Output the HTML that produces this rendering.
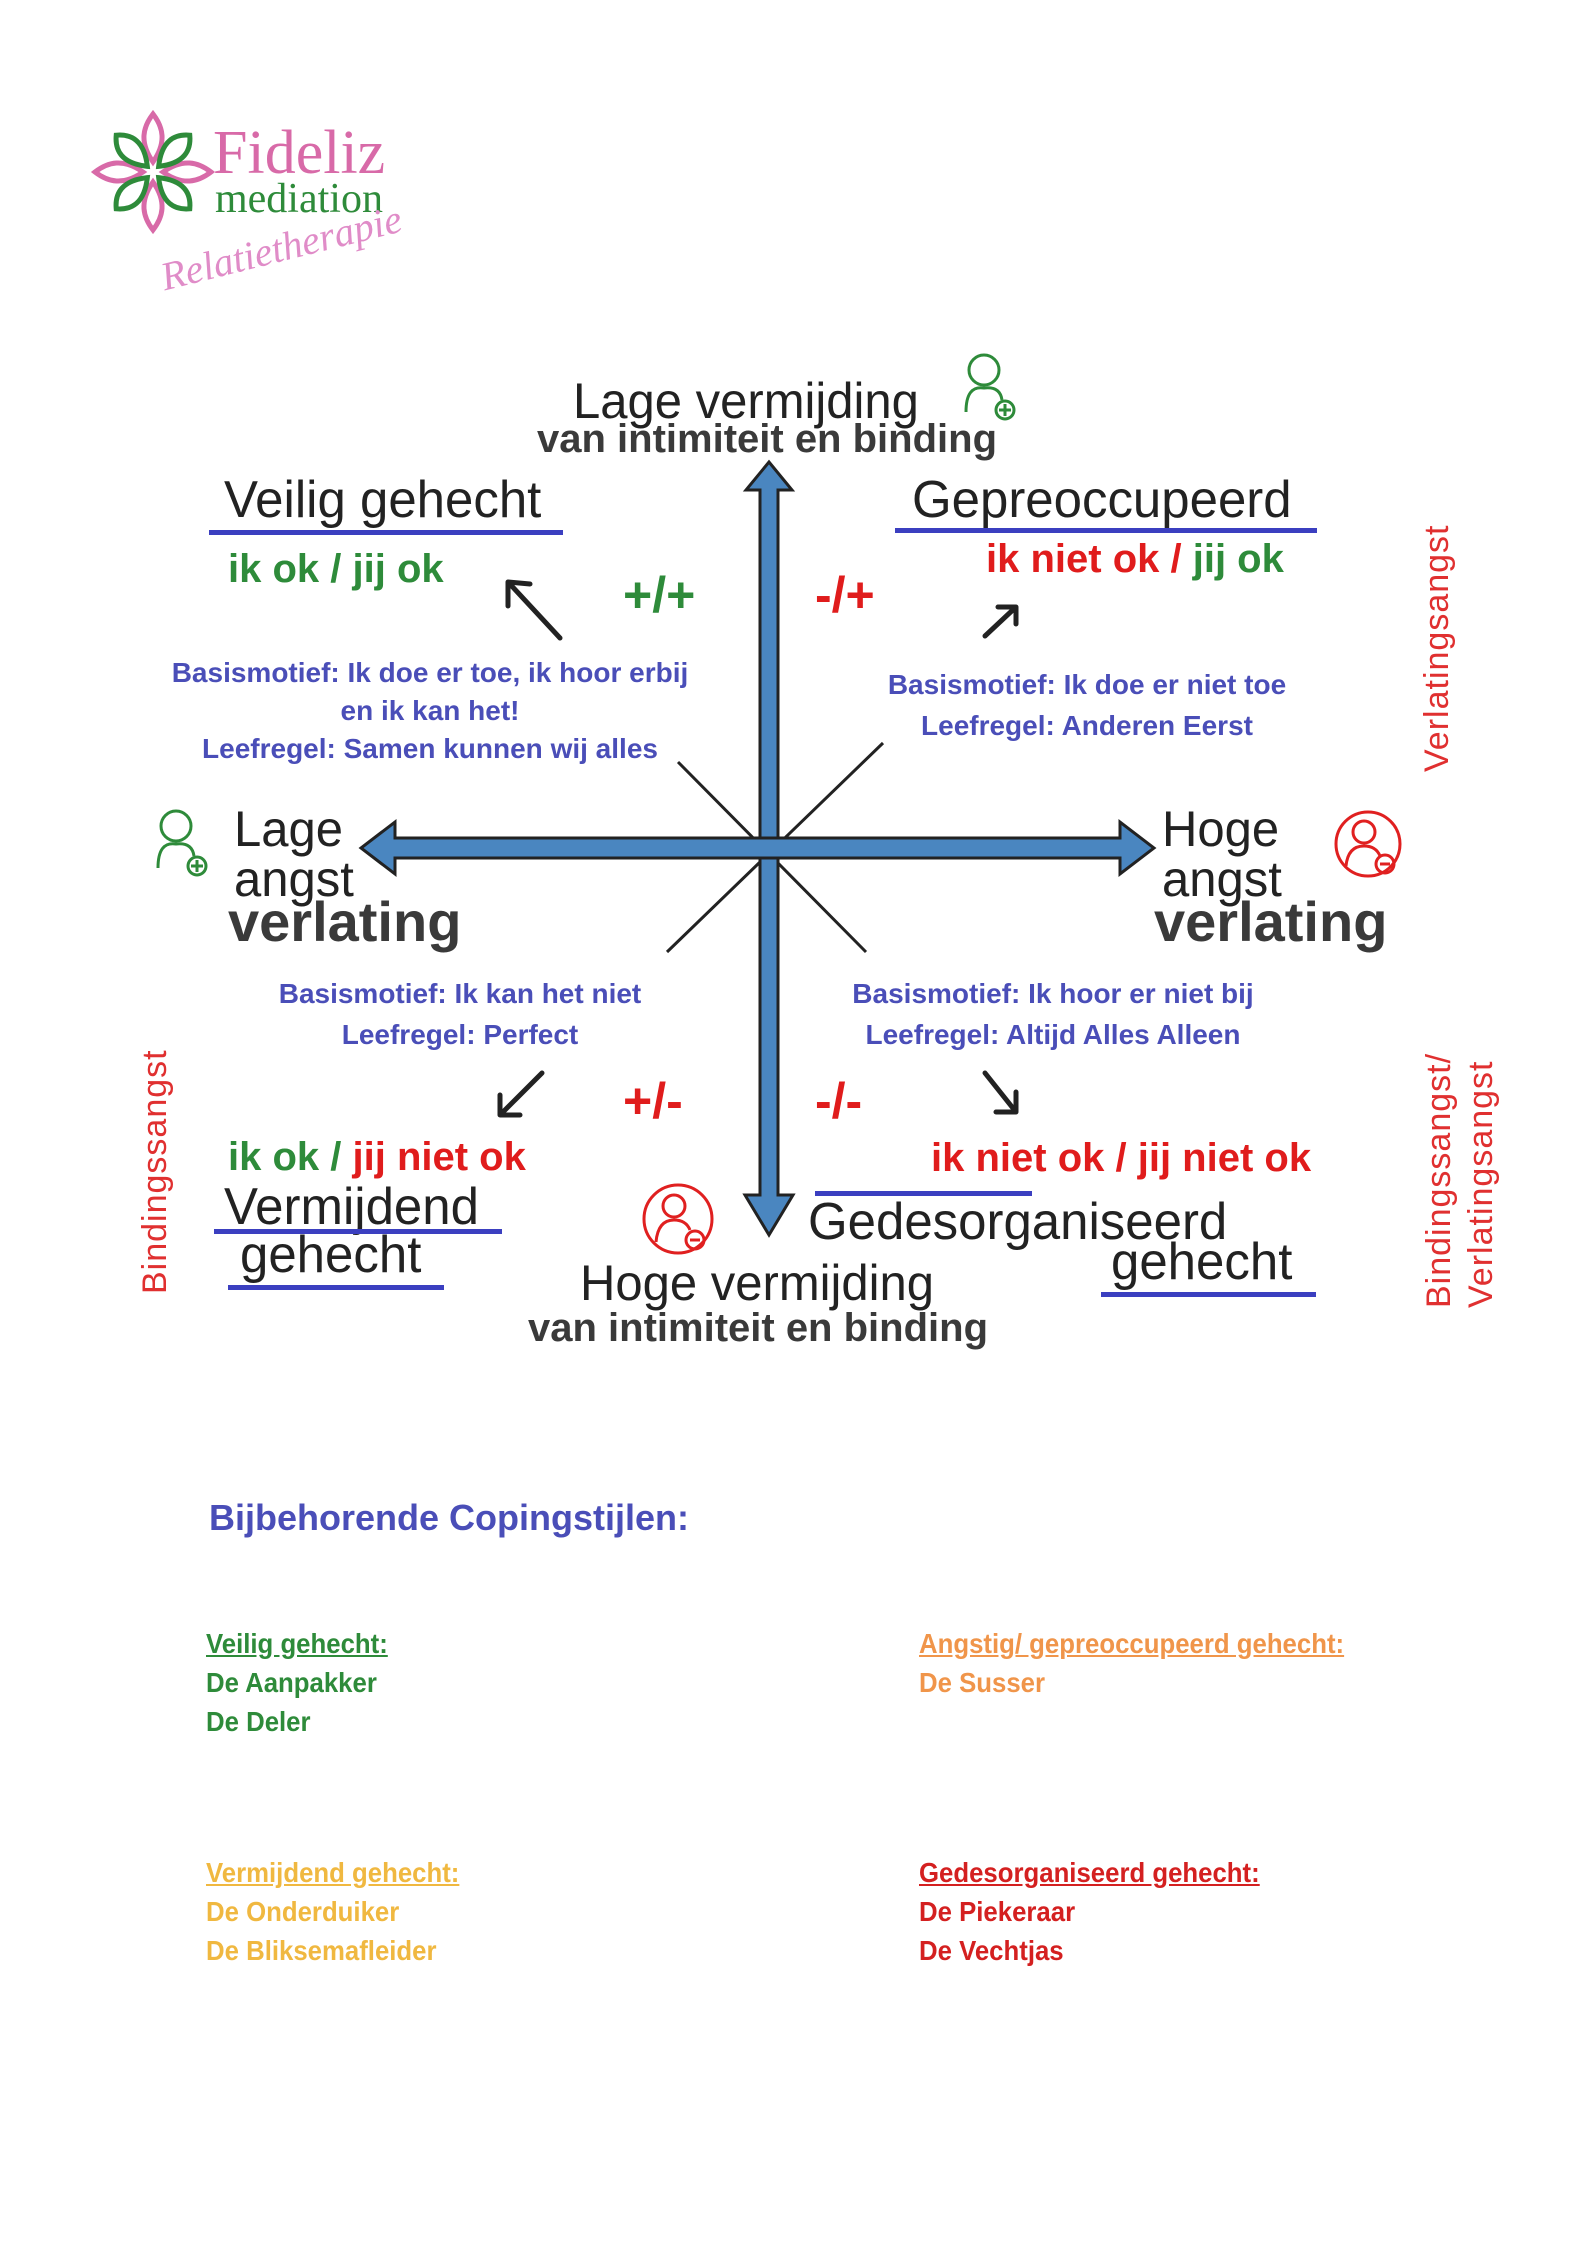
<!DOCTYPE html>
<html><head><meta charset="utf-8"><style>
body{margin:0;background:#fff}
#p{position:relative;width:1587px;height:2245px;overflow:hidden;font-family:"Liberation Sans",sans-serif}
.t{position:absolute;white-space:nowrap;line-height:1}
.ar{font-family:"Liberation Sans",sans-serif;color:#222;transform:scaleX(0.98);transform-origin:left top}
.b{font-weight:bold}
.g{color:#2e8b3a}.r{color:#e01c1c}.bl{color:#4a4eb8}.dk{color:#3a3a3a}
.bm{font-weight:bold;color:#4a4eb8;font-size:28px;text-align:center;line-height:38px}
.ul{position:absolute;height:5px;background:#3b3fc0}
.vt{position:absolute;transform:rotate(-90deg);transform-origin:left top;white-space:nowrap;color:#e03030;font-size:34px;letter-spacing:1px}
.c{font-size:28px;font-weight:bold;line-height:39px;transform:scaleX(0.92);transform-origin:left top}
</style></head><body><div id="p">
<svg width="1587" height="2245" style="position:absolute;left:0;top:0">
<g transform="translate(153,172)" fill="none" stroke-width="5">
<g stroke="#d86aa8"><path d="M0,-10 C-14,-30 -10,-45 0,-58 C10,-45 14,-30 0,-10Z"/><path d="M0,10 C-14,30 -10,45 0,58 C10,45 14,30 0,10Z"/><path d="M-10,0 C-30,-14 -45,-10 -58,0 C-45,10 -30,14 -10,0Z"/><path d="M10,0 C30,-14 45,-10 58,0 C45,10 30,14 10,0Z"/></g>
<g stroke="#2e8b3a" transform="rotate(45)"><path d="M0,-8 C-16,-28 -12,-42 0,-52 C12,-42 16,-28 0,-8Z"/><path d="M0,8 C-16,28 -12,42 0,52 C12,42 16,28 0,8Z"/><path d="M-8,0 C-28,-16 -42,-12 -52,0 C-42,12 -28,16 -8,0Z"/><path d="M8,0 C28,-16 42,-12 52,0 C42,12 28,16 8,0Z"/></g>
</g>
<g stroke="#222" stroke-width="3" fill="none">
<line x1="678" y1="762" x2="866" y2="952"/><line x1="883" y1="743" x2="667" y2="952"/>
</g>
<g fill="#4a86c0" stroke="#222" stroke-width="3">
<path d="M760,490 L760,1195 L745,1195 L769,1235 L793,1195 L778,1195 L778,490 L792,490 L769,462 L746,490Z"/>
<path d="M395,838 L1120,838 L1120,822 L1154,848 L1120,874 L1120,858 L395,858 L395,874 L361,848 L395,822Z"/>
</g>
<g stroke="#222" stroke-width="5" fill="none" stroke-linecap="round">
<path d="M560,638 L508,582 M508,582 L508,606 M508,582 L530,584"/>
<path d="M985,636 L1016,607 M1016,607 L998,607 M1016,607 L1016,624"/>
<path d="M542,1073 L500,1115 M500,1115 L500,1095 M500,1115 L520,1115"/>
<path d="M985,1073 L1016,1112 M1016,1112 L1016,1092 M1016,1112 L996,1112"/>
</g>
<g fill="none" stroke-width="3">
<g stroke="#2e8b3a"><circle cx="984" cy="370" r="15"/><path d="M966,412 Q966,385 984,388 Q1000,386 1002,400"/><circle cx="1005" cy="410" r="9"/><path d="M1005,404v12M999,410h12"/>
<circle cx="176" cy="826" r="15"/><path d="M158,868 Q158,841 176,844 Q192,842 194,856"/><circle cx="197" cy="866" r="9"/><path d="M197,860v12M191,866h12"/></g>
<g stroke="#e02020"><circle cx="1368" cy="844" r="32"/><circle cx="1364" cy="832" r="11"/><path d="M1346,866 Q1348,846 1364,846 Q1376,846 1380,856"/><circle cx="1385" cy="864" r="9"/><path d="M1380,864h10"/>
<circle cx="678" cy="1219" r="34"/><circle cx="674" cy="1206" r="11"/><path d="M656,1242 Q658,1220 674,1220 Q686,1220 690,1230"/><circle cx="695" cy="1240" r="9"/><path d="M690,1240h10"/></g>
</g>
</svg>
<div class="t" style="left:213px;top:122px;font-family:'Liberation Serif',serif;font-size:62px;color:#d86aa8">Fideliz</div>
<div class="t" style="left:215px;top:178px;font-family:'Liberation Serif',serif;font-size:42px;color:#2e8b3a">mediation</div>
<div class="t" style="left:158px;top:228px;font-family:'Liberation Serif',serif;font-style:italic;font-size:40px;color:#e08cc8;transform:rotate(-14deg)">Relatietherapie</div>

<div class="t ar" style="left:573px;top:376px;font-size:50px">Lage vermijding</div>
<div class="t b dk" style="left:537px;top:419px;font-size:40px">van intimiteit en binding</div>
<div class="t ar" style="left:224px;top:474px;font-size:52px">Veilig gehecht</div>
<div class="ul" style="left:209px;top:530px;width:354px"></div>
<div class="t ar" style="left:912px;top:474px;font-size:52px">Gepreoccupeerd</div>
<div class="ul" style="left:895px;top:528px;width:422px"></div>
<div class="t b g" style="left:228px;top:549px;font-size:40px">ik ok / jij ok</div>
<div class="t b" style="left:986px;top:539px;font-size:40px"><span class="r">ik niet ok / </span><span class="g">jij ok</span></div>
<div class="t b g" style="left:623px;top:570px;font-size:50px">+/+</div>
<div class="t b r" style="left:815px;top:570px;font-size:50px">-/+</div>
<div class="t bm" style="left:130px;top:654px;width:600px">Basismotief: Ik doe er toe, ik hoor erbij<br>en ik kan het!<br>Leefregel: Samen kunnen wij alles</div>
<div class="t bm" style="left:787px;top:664px;width:600px;line-height:41px">Basismotief: Ik doe er niet toe<br>Leefregel: Anderen Eerst</div>
<div class="t ar" style="left:234px;top:804px;font-size:50px;line-height:50px">Lage<br>angst</div>
<div class="t b dk" style="left:228px;top:894px;font-size:56px">verlating</div>
<div class="t ar" style="left:1162px;top:804px;font-size:50px;line-height:50px">Hoge<br>angst</div>
<div class="t b dk" style="left:1154px;top:894px;font-size:56px">verlating</div>
<div class="t bm" style="left:160px;top:973px;width:600px;line-height:41px">Basismotief: Ik kan het niet<br>Leefregel: Perfect</div>
<div class="t bm" style="left:753px;top:973px;width:600px;line-height:41px">Basismotief: Ik hoor er niet bij<br>Leefregel: Altijd Alles Alleen</div>
<div class="t b r" style="left:623px;top:1076px;font-size:50px">+/-</div>
<div class="t b r" style="left:815px;top:1076px;font-size:50px">-/-</div>
<div class="t b" style="left:228px;top:1137px;font-size:40px"><span class="g">ik ok / </span><span class="r">jij niet ok</span></div>
<div class="t b r" style="left:931px;top:1138px;font-size:40px">ik niet ok / jij niet ok</div>
<div class="t ar" style="left:224px;top:1181px;font-size:52px">Vermijdend</div>
<div class="ul" style="left:214px;top:1229px;width:288px"></div>
<div class="t ar" style="left:240px;top:1229px;font-size:52px">gehecht</div>
<div class="ul" style="left:228px;top:1285px;width:216px"></div>
<div class="ul" style="left:815px;top:1191px;width:217px"></div>
<div class="t ar" style="left:808px;top:1196px;font-size:52px">Gedesorganiseerd</div>
<div class="t ar" style="left:1111px;top:1236px;font-size:52px">gehecht</div>
<div class="ul" style="left:1101px;top:1292px;width:215px"></div>
<div class="t ar" style="left:580px;top:1258px;font-size:50px">Hoge vermijding</div>
<div class="t b dk" style="left:528px;top:1308px;font-size:40px">van intimiteit en binding</div>
<div class="vt" style="left:1418px;top:772px">Verlatingsangst</div>
<div class="vt" style="left:136px;top:1294px">Bindingssangst</div>
<div class="vt" style="left:1418px;top:1308px;line-height:42px">Bindingssangst/<br>Verlatingsangst</div>

<div class="t b bl" style="left:209px;top:1500px;font-size:36px">Bijbehorende Copingstijlen:</div>
<div class="t c g" style="left:206px;top:1624px"><u>Veilig gehecht:</u><br>De Aanpakker<br>De Deler</div>
<div class="t c" style="left:919px;top:1624px;color:#f0954a"><u>Angstig/ gepreoccupeerd gehecht:</u><br>De Susser</div>
<div class="t c" style="left:206px;top:1853px;color:#f0b840"><u>Vermijdend gehecht:</u><br>De Onderduiker<br>De Bliksemafleider</div>
<div class="t c" style="left:919px;top:1853px;color:#d42020"><u>Gedesorganiseerd gehecht:</u><br>De Piekeraar<br>De Vechtjas</div>
</div></body></html>
